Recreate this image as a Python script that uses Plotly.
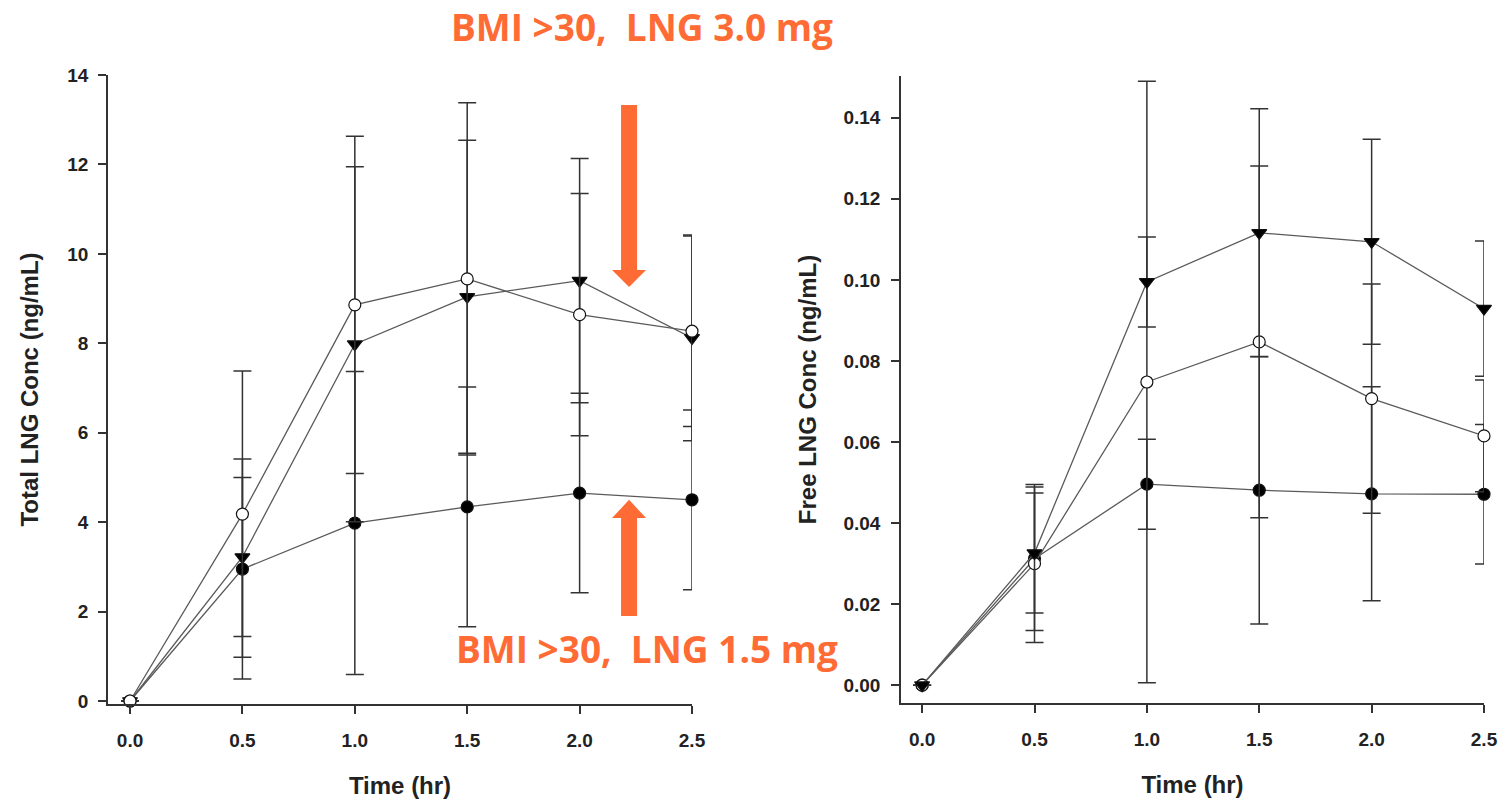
import plotly.graph_objects as go

# ---------------- data ----------------
time_hr = [0.0, 0.5, 1.0, 1.5, 2.0, 2.5]

# Total LNG (ng/mL)
total_open = [0.0, 4.18, 8.86, 9.44, 8.64, 8.27]
total_open_sd = [0.0, 3.20, 3.77, 3.94, 2.71, 2.13]
total_tri = [0.0, 3.22, 7.98, 9.04, 9.40, 8.12]
total_tri_sd = [0.0, 1.78, 3.97, 3.50, 2.73, 2.30]
total_fill = [0.0, 2.95, 3.98, 4.34, 4.65, 4.50]
total_fill_sd = [0.0, 2.46, 3.39, 2.68, 2.23, 2.01]

# Free LNG (ng/mL)
free_open = [0.0, 0.0300, 0.0748, 0.0847, 0.0707, 0.0615]
free_open_sd = [0.0, 0.0195, 0.0742, 0.0434, 0.0283, 0.0138]
free_tri = [0.0, 0.0326, 0.0995, 0.1116, 0.1094, 0.0929]
free_tri_sd = [0.0, 0.0148, 0.0111, 0.0306, 0.0253, 0.0167]
free_fill = [0.0, 0.0312, 0.0496, 0.0481, 0.0472, 0.0471]
free_fill_sd = [0.0, 0.0177, 0.0111, 0.0330, 0.0264, 0.0172]

x_ticks = [0.0, 0.5, 1.0, 1.5, 2.0, 2.5]
left_y_ticks = [0, 2, 4, 6, 8, 10, 12, 14]
right_y_ticks = [0.00, 0.02, 0.04, 0.06, 0.08, 0.10, 0.12, 0.14]

label_hi = "BMI >30,\u00a0\u00a0LNG 3.0 mg"
label_lo = "BMI >30,\u00a0\u00a0LNG 1.5 mg"
arrow_x = 2.22
arrow_down = (13.33, 9.64, 9.26)   # shaft top, head base, tip
arrow_up = (1.90, 4.09, 4.50)      # shaft bottom, head base, tip

# ---------------- style ----------------
W, H = 1511, 805
ML, MR, MT, MB = 60, 10, 60, 90
ORANGE = "#FF6B35"
LINE = "#5a5a5a"
AX = "#333333"
BOLD = dict(family="Arial, Liberation Sans, sans-serif", weight="bold", color="#222222")


def px_x(p):
    return (p - ML) / (W - ML - MR)


def px_y(p):
    return (H - MB - p) / (H - MT - MB)


fig = go.Figure()


def add_series(x, y, sd, xa, ya, symbol, fill):
    fig.add_trace(go.Scatter(
        x=x, y=y, xaxis=xa, yaxis=ya, mode="lines+markers", cliponaxis=False,
        line=dict(color=LINE, width=1.3),
        marker=dict(symbol=symbol, size=12 if symbol != "triangle-down" else 13,
                    color=fill, line=dict(color="#111111", width=1.2)),
        error_y=dict(type="data", array=sd, visible=True, color=AX,
                     thickness=1.5, width=9),
        showlegend=False,
    ))


add_series(time_hr, total_fill, total_fill_sd, "x", "y", "circle", "#000000")
add_series(time_hr, total_tri, total_tri_sd, "x", "y", "triangle-down", "#000000")
add_series(time_hr, total_open, total_open_sd, "x", "y", "circle", "#ffffff")

add_series(time_hr, free_fill, free_fill_sd, "x2", "y2", "circle", "#000000")
add_series(time_hr, free_open, free_open_sd, "x2", "y2", "circle", "#ffffff")
add_series(time_hr, free_tri, free_tri_sd, "x2", "y2", "triangle-down", "#000000")

axis_common = dict(showline=True, linecolor=AX, linewidth=1.5, ticks="outside",
                   ticklen=8, tickwidth=1.5, tickcolor=AX, showgrid=False,
                   zeroline=False, automargin=False, tickfont=dict(size=19, **BOLD))
TITLE_FONT = dict(size=24, **BOLD)

fig.update_layout(
    width=W, height=H, margin=dict(l=ML, r=MR, t=MT, b=MB),
    plot_bgcolor="white", paper_bgcolor="white",
    xaxis=dict(domain=[px_x(108), px_x(692)], range=[-0.098, 2.5], anchor="y",
               tickvals=x_ticks, tickformat=".1f", ticklabelstandoff=10,
               title=dict(text="Time (hr)", font=TITLE_FONT, standoff=28),
               **axis_common),
    yaxis=dict(domain=[px_y(704), px_y(75)], range=[-0.067, 14], anchor="x",
               tickvals=left_y_ticks, ticklabelstandoff=6,
               title=dict(text="Total LNG Conc (ng/mL)", font=TITLE_FONT, standoff=22),
               **axis_common),
    xaxis2=dict(domain=[px_x(901), px_x(1484)], range=[-0.094, 2.5], anchor="y2",
                tickvals=x_ticks, tickformat=".1f", ticklabelstandoff=10,
                title=dict(text="Time (hr)", font=TITLE_FONT, standoff=28),
                **axis_common),
    yaxis2=dict(domain=[px_y(703), px_y(76)], range=[-0.0044, 0.1503], anchor="x2",
                tickvals=right_y_ticks, tickformat=".2f", ticklabelstandoff=7,
                title=dict(text="Free LNG Conc (ng/mL)", font=TITLE_FONT, standoff=20),
                **axis_common),
)

TXT = dict(family="Open Sans, sans-serif", size=37, weight="bold", color=ORANGE)
fig.add_annotation(text=label_hi, xref="paper", yref="paper", x=px_x(642), y=px_y(27),
                   showarrow=False, font=TXT, xanchor="center", yanchor="middle")
fig.add_annotation(text=label_lo, xref="paper", yref="paper", x=px_x(647), y=px_y(648),
                   showarrow=False, font=TXT, xanchor="center", yanchor="middle")


def arrow_path(tail, base, tip):
    # x in pixels relative to anchor, y in data units
    return (f"M -8,{tail} L 8,{tail} L 8,{base} L 17,{base} L 0,{tip} "
            f"L -17,{base} L -8,{base} Z")


for (a, b, c) in (arrow_down, arrow_up):
    fig.add_shape(type="path", xref="x", yref="y", xsizemode="pixel", xanchor=arrow_x,
                  path=arrow_path(a, b, c), fillcolor=ORANGE,
                  line=dict(width=0), layer="above")

fig.write_html("out.html", config={"displayModeBar": False},
               post_script="document.body.style.margin='0';document.body.style.overflow='hidden';")
